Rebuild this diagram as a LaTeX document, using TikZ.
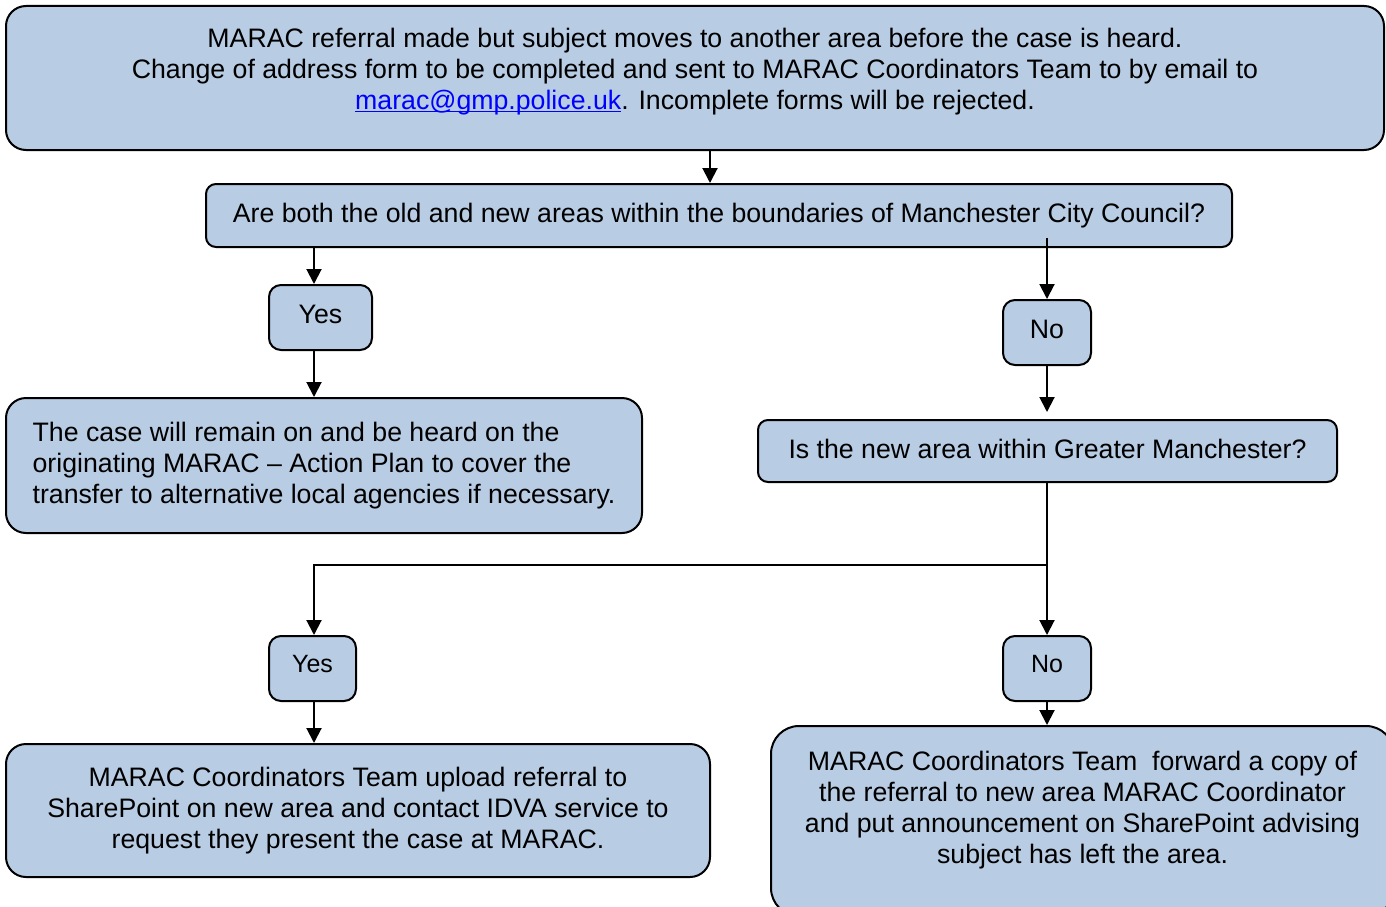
\documentclass[tikz,border=0pt]{standalone}
\usepackage{fontspec}
\setmainfont{Liberation Sans}
\usetikzlibrary{arrows.meta}
\definecolor{boxblue}{RGB}{184,204,228}
\newcommand{\maillink}[1]{\setbox0\hbox{#1}\rlap{\rule[-2.5pt]{\wd0}{1.5pt}}\box0}
\tikzset{
  box/.style={draw, fill=boxblue, line width=2pt, inner sep=0pt,
    font=\fontsize{26.7}{31}\selectfont, align=center},
  small/.style={font=\fontsize{25}{30}\selectfont},
  boxtext/.style={inner sep=0pt, font=\fontsize{26.7}{31}\selectfont, align=center},
  conn/.style={line width=2pt},
  arr/.style={conn, -{Triangle[length=15pt,width=15pt]}},
}
\begin{document}
\begin{tikzpicture}[x=1pt, y=-1pt]
  \useasboundingbox (0,0) rectangle (1386,907);
  \coordinate (lcol) at (314,0);
  \coordinate (rcol) at (1047,0);
  % boxes
  \node[box, minimum width=1378pt, minimum height=144pt, rounded corners=20pt,
    label={[boxtext, yshift=6pt]center:{MARAC referral made but subject moves to another area before the case is heard.\\
      Change of address form to be completed and sent to MARAC Coordinators Team to by email to\\
      \textcolor{blue}{\maillink{marac@gmp.police.uk}}. Incomplete forms will be rejected.}}]
    (top) at (695,78) {};
  \node[box, minimum width=1026pt, minimum height=63pt, rounded corners=10pt] (q1) at (719,215.5)
    {Are both the old and new areas within the boundaries of Manchester City Council?};
  \node[box, text height=19pt, text depth=8pt, minimum width=103pt, minimum height=65pt,
    rounded corners=12pt] (yes1) at (320.5,317.5) {Yes};
  \node[box, text height=19pt, text depth=8pt, minimum width=88pt, minimum height=65pt,
    rounded corners=12pt] (no1) at (1047,332.5) {No};
  \node[box, align=left, minimum width=636pt, minimum height=135pt, rounded corners=20pt] (case) at (324,465.5)
    {The case will remain on and be heard on the\\
     originating MARAC – Action Plan to cover the\\
     transfer to alternative local agencies if necessary.};
  \node[box, text height=19pt, text depth=4pt, minimum width=579pt, minimum height=62pt,
    rounded corners=10pt] (q2) at (1047.5,451) {Is the new area within Greater Manchester?};
  \node[box, small, text height=18pt, text depth=11pt, minimum width=87pt, minimum height=65pt,
    rounded corners=12pt] (yes2) at (312.5,668.5) {Yes};
  \node[box, small, text height=18pt, text depth=11pt, minimum width=88pt, minimum height=65pt,
    rounded corners=12pt] (no2) at (1047,668.5) {No};
  \node[box, minimum width=704pt, minimum height=133pt, rounded corners=20pt] (left) at (358,810.5)
    {MARAC Coordinators Team upload referral to\\
     SharePoint on new area and contact IDVA service to\\
     request they present the case at MARAC.};
  \node[box, minimum width=623pt, minimum height=190pt, rounded corners=28pt,
    label={[boxtext, yshift=11pt]center:{MARAC Coordinators Team~ forward a copy of\\
      the referral to new area MARAC Coordinator\\
      and put announcement on SharePoint advising\\
      subject has left the area.}}]
    (right) at (1082.5,821) {};
  % connectors
  \draw[arr] ([xshift=-9pt]q1.north |- top.south) -- ([xshift=-9pt]q1.north);
  \draw[arr] (q1.south -| lcol) -- (yes1.north -| lcol);
  \draw[arr] ([yshift=10pt]q1.south -| rcol) -- (no1.north);
  \draw[arr] (yes1.south -| lcol) -- (case.north -| lcol);
  \draw[arr] (no1.south) -- ([yshift=7pt]q2.north -| rcol);
  \coordinate (split) at (1047,565);
  \draw[conn] (q2.south -| rcol) -- (split);
  \draw[arr] (split) -- (no2.north);
  \draw[arr] (split) -| (yes2.north -| lcol);
  \draw[arr] (yes2.south -| lcol) -- (left.north -| lcol);
  \draw[arr] (no2.south) -- (right.north -| rcol);
\end{tikzpicture}
\end{document}
